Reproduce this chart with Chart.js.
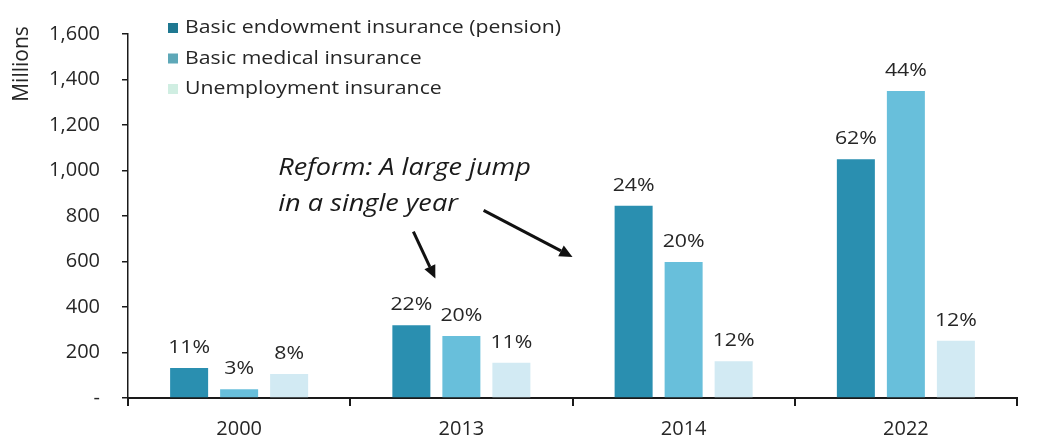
<!DOCTYPE html>
<html>
<head>
<meta charset="utf-8">
<script src="https://cdn.jsdelivr.net/npm/chart.js@4/dist/chart.umd.min.js"></script>
<style>
  html, body { margin: 0; padding: 0; background: #fff; }
  #wrap { width: 1037px; height: 444px; }
</style>
</head>
<body>
<div id="wrap"><canvas id="chart"></canvas></div>
<script>
/* ---------- DATA ---------- */
const years = ['2000', '2013', '2014', '2022'];
const seriesNames = ['Basic endowment insurance (pension)', 'Basic medical insurance', 'Unemployment insurance'];
const pension = [132, 320, 845, 1050];
const medical = [38, 273, 598, 1350];
const unemployment = [105, 155, 162, 252];
const pensionPct = ['11%', '22%', '24%', '62%'];
const medicalPct = ['3%', '20%', '20%', '44%'];
const unemploymentPct = ['8%', '11%', '12%', '12%'];
const yTicks = [0, 200, 400, 600, 800, 1000, 1200, 1400, 1600];
const noteLines = ['Reform: A large jump', 'in a single year'];

const colors = ['#2a8fb0', '#68bfdb', '#d2eaf3'];
const legendColors = ['#1f7891', '#5ea8b8', '#d0eee2'];
const FONT = "'Open Sans', sans-serif";
const textColor = '#262626';
const STRETCH = 1.18; // source text looks horizontally widened

// draw text widened horizontally around its anchor
function wideText(ctx, text, x, y, sx, align) {
  ctx.save();
  ctx.translate(x, y);
  ctx.scale(sx, 1);
  ctx.textAlign = align || 'left';
  ctx.fillText(text, 0, 0);
  ctx.restore();
}

/* ---------- PLUGINS ---------- */
const labelsPlugin = {
  id: 'barLabels',
  afterDatasetsDraw(chart) {
    const ctx = chart.ctx;
    const pcts = [pensionPct, medicalPct, unemploymentPct];
    ctx.save();
    ctx.font = `19px ${FONT}`;
    ctx.fillStyle = textColor;
    ctx.textBaseline = 'bottom';
    chart.data.datasets.forEach((ds, di) => {
      chart.getDatasetMeta(di).data.forEach((bar, i) => {
        wideText(ctx, pcts[di][i], bar.x, bar.y - 11, 1.12, 'center');
      });
    });
    ctx.restore();
  }
};

const legendPlugin = {
  id: 'sideLegend',
  afterDraw(chart) {
    const ctx = chart.ctx;
    ctx.save();
    ctx.font = `18px ${FONT}`;
    ctx.textBaseline = 'middle';
    seriesNames.forEach((name, i) => {
      const y = 28 + i * 30.5;
      ctx.fillStyle = legendColors[i];
      ctx.fillRect(168, y - 5, 10, 10);
      ctx.fillStyle = textColor;
      wideText(ctx, name, 185, y, STRETCH);
    });
    ctx.restore();
  }
};

// note + arrows anchored to category index / value
const notePos = { x: 0.176, y: 1010, lineGap: 160 };
const arrows = [
  { from: [1 - 0.216, 731], to: [1 - 0.117, 525] },
  { from: [1 + 0.1, 825], to: [1.5, 620] }
];

function drawArrow(ctx, x1, y1, x2, y2) {
  const ang = Math.atan2(y2 - y1, x2 - x1);
  const head = 13;
  const bx = x2 - head * Math.cos(ang), by = y2 - head * Math.sin(ang);
  ctx.beginPath();
  ctx.moveTo(x1, y1);
  ctx.lineTo(bx, by);
  ctx.stroke();
  ctx.beginPath();
  ctx.moveTo(x2, y2);
  ctx.lineTo(bx + 6 * Math.sin(ang), by - 6 * Math.cos(ang));
  ctx.lineTo(bx - 6 * Math.sin(ang), by + 6 * Math.cos(ang));
  ctx.closePath();
  ctx.fill();
}

const notePlugin = {
  id: 'note',
  afterDraw(chart) {
    const ctx = chart.ctx;
    const xs = chart.scales.x, ys = chart.scales.y;
    const catW = xs.getPixelForValue(1) - xs.getPixelForValue(0);
    const px = v => xs.getPixelForValue(0) + v * catW;
    ctx.save();
    ctx.font = `italic 23px ${FONT}`;
    ctx.fillStyle = '#1a1a1a';
    ctx.textBaseline = 'middle';
    wideText(ctx, noteLines[0], px(notePos.x), ys.getPixelForValue(notePos.y), STRETCH);
    wideText(ctx, noteLines[1], px(notePos.x), ys.getPixelForValue(notePos.y - notePos.lineGap), STRETCH);
    ctx.strokeStyle = '#111';
    ctx.fillStyle = '#111';
    ctx.lineWidth = 3;
    arrows.forEach(a => {
      drawArrow(ctx, px(a.from[0]), ys.getPixelForValue(a.from[1]), px(a.to[0]), ys.getPixelForValue(a.to[1]));
    });
    // y axis title at top of axis
    ctx.font = `21px ${FONT}`;
    ctx.fillStyle = textColor;
    ctx.translate(22, 64);
    ctx.rotate(-Math.PI / 2);
    ctx.textAlign = 'center';
    ctx.textBaseline = 'middle';
    ctx.fillText('Millions', 0, 0);
    ctx.restore();
  }
};

/* ---------- CHART ---------- */
new Chart(document.getElementById('chart'), {
  type: 'bar',
  data: {
    labels: years,
    datasets: [
      { label: seriesNames[0], data: pension, backgroundColor: colors[0] },
      { label: seriesNames[1], data: medical, backgroundColor: colors[1] },
      { label: seriesNames[2], data: unemployment, backgroundColor: colors[2] }
    ]
  },
  options: {
    responsive: true,
    maintainAspectRatio: false,
    animation: false,
    barPercentage: 0.76,
    categoryPercentage: 0.675,
    layout: { padding: { left: 0, right: 20, top: 23, bottom: 0 } },
    plugins: { legend: { display: false }, tooltip: { enabled: false } },
    scales: {
      x: {
        afterFit: s => { s.height = 46; },
        border: { color: '#1a1a1a', width: 2 },
        grid: { offset: true, drawOnChartArea: false, tickLength: 8, color: '#1a1a1a', lineWidth: 2 },
        ticks: { color: textColor, font: { family: FONT, size: 20 }, padding: 11 }
      },
      y: {
        min: 0,
        max: 1600,
        afterFit: s => { s.width = 128; },
        afterBuildTicks: s => { s.ticks = yTicks.map(v => ({ value: v })); },
        border: { color: '#1a1a1a', width: 1.5 },
        grid: { drawOnChartArea: false, tickLength: 6, color: '#1a1a1a', lineWidth: 1.5 },
        ticks: {
          color: textColor,
          font: { family: FONT, size: 20 },
          padding: 22,
          callback: v => v === 0 ? '-' : v.toLocaleString('en-US')
        }
      }
    }
  },
  plugins: [labelsPlugin, legendPlugin, notePlugin]
});
</script>
</body>
</html>
